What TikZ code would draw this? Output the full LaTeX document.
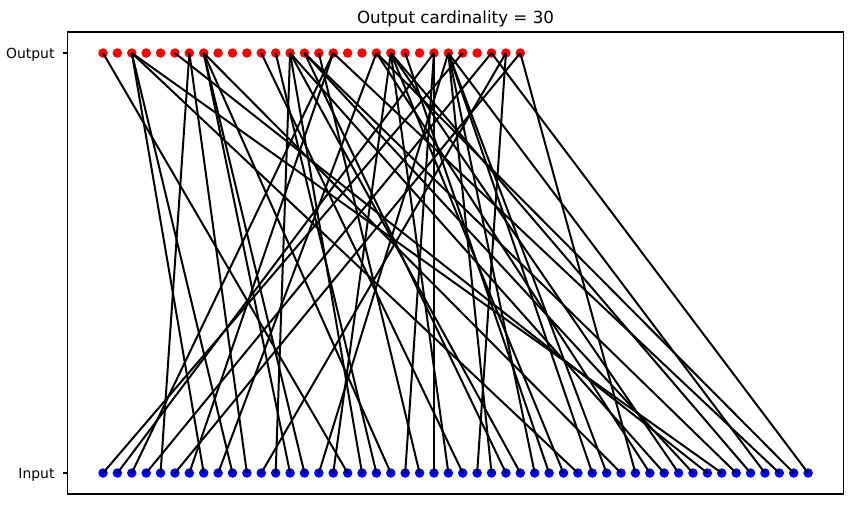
\documentclass[tikz,border=0pt]{standalone}
\usepackage{fontspec}
\setmainfont{DejaVu Sans}
\usetikzlibrary{positioning}
\definecolor{DotRed}{HTML}{FF0000}
\definecolor{DotBlue}{HTML}{0000FF}

\tikzset{
  outdot/.style={circle,fill=DotRed,inner sep=0pt,minimum size=9.5pt},
  indot/.style={circle,fill=DotBlue,inner sep=0pt,minimum size=9.5pt},
  mapline/.style={line width=2pt,black},
  ticklab/.style={font=\fontsize{13.9}{16}\selectfont,anchor=base east}
}

\begin{document}
\begin{tikzpicture}[x=1pt,y=-1pt]
    \useasboundingbox (0,0) rectangle (852,504);
    % axes frame and ticks
    \draw[line width=1.1pt] (67.7,32) rectangle (843.3,494);
    \draw[line width=1.1pt] (67.7,53) -- ++(-4.9,0);
    \draw[line width=1.1pt] (67.7,473) -- ++(-4.9,0);
    \node[ticklab] (lblout) at (58,58) {Output};
    \node[ticklab] (lblin) at (58,478) {Input};
    \node[font=\fontsize{16.7}{20}\selectfont,anchor=base] (title) at (455.5,23.5)
      {Output cardinality = 30};
    % points
    \foreach \j in {0,...,29}
      \node[outdot] (out\j) at ({103+14.39*\j},53) {};
    \foreach \i in {0,...,49}
      \node[indot] (in\i) at ({103+14.39*\i},473) {};
    % mapping input -> output
    \foreach \i/\j in {0/25,1/23,2/16,3/27,4/6,5/29,6/16,7/2,8/19,9/2,
        10/6,11/28,12/13,13/7,14/7,15/24,16/20,17/0,18/13,19/12,
        20/7,21/23,22/15,23/23,24/20,25/11,26/28,27/24,28/14,29/13,
        30/24,31/21,32/20,33/2,34/24,35/24,36/7,37/29,38/19,39/13,
        40/20,41/14,42/5,43/2,44/14,45/20,46/24,47/16,48/19,49/27}
      \draw[mapline] (in\i.center) -- (out\j.center);
\end{tikzpicture}
\end{document}
